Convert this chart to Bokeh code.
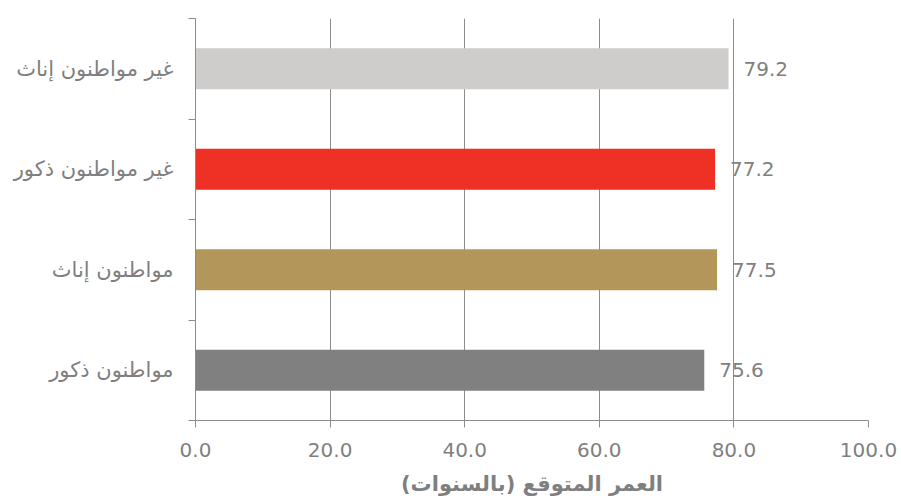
from bokeh.plotting import figure
from bokeh.models import FixedTicker, NumeralTickFormatter, ColumnDataSource, Range1d
from bokeh.core.properties import value
from bokeh.embed import file_html
from bokeh.resources import INLINE

categories = ["مواطنون ذكور", "مواطنون إناث", "غير مواطنون ذكور", "غير مواطنون إناث"]
values = [75.6, 77.5, 77.2, 79.2]
colors = ["#808080", "#b3965a", "#ee3124", "#cfcdcb"]
x_ticks = [0, 20, 40, 60, 80, 100]
x_title = "العمر المتوقع (بالسنوات)"

FONT = "DejaVu Sans"
GRAY = "#7f7f7f"
LINE = "#8c8c8c"

pos = [i + 0.5 for i in range(len(categories))]
src = ColumnDataSource(dict(y=pos, v=values, c=colors,
                            lbl=["%.1f" % v for v in values]))

W, H = 898, 498
p = figure(width=W, height=H, output_backend="svg", toolbar_location=None,
           x_range=Range1d(0, 100), y_range=Range1d(0, len(categories)),
           min_border_left=195, min_border_right=30, min_border_top=18,
           min_border_bottom=78)
p.outline_line_color = None
p.background_fill_color = "white"

p.hbar(y="y", right="v", left=0, height=0.41, fill_color="c", line_color=None, source=src)
p.text(x="v", y="y", text="lbl", x_offset=15, text_align="left", text_baseline="middle",
       text_font=value(FONT), text_font_size="20px", text_color=GRAY, source=src)

# x axis
xa = p.xaxis[0]
xa.ticker = FixedTicker(ticks=x_ticks)
xa.formatter = NumeralTickFormatter(format="0.0")
xa.axis_line_color = LINE
xa.major_tick_line_color = LINE
xa.major_tick_out = 7
xa.major_tick_in = 0
xa.minor_tick_line_color = None
xa.major_label_text_font = FONT
xa.major_label_text_font_size = "20px"
xa.major_label_text_color = GRAY
xa.major_label_standoff = 15
xa.axis_label = x_title
xa.axis_label_text_font = FONT
xa.axis_label_text_font_size = "21px"
xa.axis_label_text_font_style = "bold"
xa.axis_label_text_color = GRAY
xa.axis_label_standoff = 12

# y axis
ya = p.yaxis[0]
ya.ticker = FixedTicker(ticks=pos, minor_ticks=list(range(len(categories) + 1)))
ya.major_label_overrides = {pp: c for pp, c in zip(pos, categories)}
ya.axis_line_color = LINE
ya.major_tick_line_color = None
ya.major_tick_out = 0
ya.major_tick_in = 0
ya.minor_tick_line_color = LINE
ya.minor_tick_out = 7
ya.minor_tick_in = 0
ya.major_label_text_font = FONT
ya.major_label_text_font_size = "21px"
ya.major_label_text_color = GRAY
ya.major_label_standoff = 15

p.xgrid.ticker = FixedTicker(ticks=x_ticks)
p.xgrid.grid_line_color = LINE
p.xgrid.grid_line_width = 1
p.ygrid.grid_line_color = None

open("out.html", "w").write(file_html(p, INLINE))
